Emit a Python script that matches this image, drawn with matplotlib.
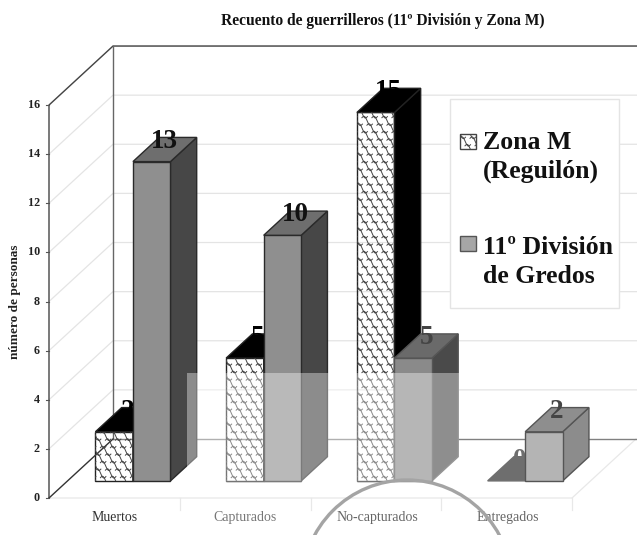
import numpy as np
import matplotlib
matplotlib.use('Agg')
import matplotlib.pyplot as plt
from matplotlib.patches import Polygon, Rectangle, Ellipse

plt.rcParams['font.family'] = ['Liberation Serif', 'DejaVu Serif']

categories = ['Muertos', 'Capturados', 'No-capturados', 'Entregados']
zona_m = [2, 5, 15, 0]
gredos = [13, 10, 5, 2]
series_names = ['Zona M\n(Reguilón)', '11º División\nde Gredos']
y_ticks = [0, 2, 4, 6, 8, 10, 12, 14, 16]

W, H = 637, 535
X0, Y0 = 49, 498       # pixel of the front corner
CAT_W = 130.75         # px per category
UNIT = 24.56           # px per person
DX = 64 / CAT_W        # depth of the box in data units
DY = 59 / UNIT

BAR_W = 0.287
BAR_MARGIN = 0.213
Z1, Z2 = 0.29, 0.70    # bar depth in the box


def pr(x, y, z=0.0):
    return x + DX * z, y + DY * z


def px(x, y):
    # only for scan leftovers and annotations
    return (x - X0) / CAT_W, (Y0 - y) / UNIT


fig = plt.figure(figsize=(W / 100, H / 100), dpi=100)
ax = fig.add_axes([0, 0, 1, 1])
ax.set_xlim(-X0 / CAT_W, (W - X0) / CAT_W)
ax.set_ylim((Y0 - H) / UNIT, Y0 / UNIT)
ax.axis('off')

# walls and floor
n = len(categories)
for t in y_ticks[1:]:
    ax.plot(*zip(pr(0, t), pr(0, t, 1), pr(n + 0.5, t, 1)), color='#e4e4e4', lw=0.9, zorder=1)
ax.plot(*zip(pr(0, 0), pr(n, 0), pr(n, 0, 1)), color='#e8e8e8', lw=0.9, zorder=1)
for i in range(1, n + 1):
    ax.plot(*zip(pr(i, 0), pr(i, -0.5)), color='#e8e8e8', lw=0.9, zorder=1)
ax.plot(*zip(pr(0, 0), pr(0, 16), pr(0, 16, 1), pr(n + 0.5, 16, 1)), color='#444444', lw=1, zorder=2)
ax.plot(*zip(pr(0, 16, 1), pr(0, 0, 1)), color='#666666', lw=1, zorder=2)
ax.plot(*zip(pr(0, 0, 1), pr(n + 0.5, 0, 1)), color='#808080', lw=1, zorder=2)
ax.plot(*zip(pr(0, 0), pr(0, 0, 1)), color='#333333', lw=1, zorder=2)
for t in y_ticks:
    ax.plot(*zip(pr(0, t), pr(-0.02, t)), color='#555555', lw=0.8, zorder=2)
    ax.text(-0.07, t, str(t), ha='right', va='center', fontsize=8.7, weight='bold', color='#222222')
ax.text(*px(15, 302), 'número de personas', rotation=90, ha='center', va='center',
        fontsize=9.5, weight='bold', color='#222222')
label_x = [114.5, 245.5, 377, 507.5]
label_c = ['#333333', '#777777', '#666666', '#666666']
for i, c in enumerate(categories):
    ax.text(px(label_x[i], 0)[0], px(0, 517.5)[1], c, ha='center', va='center', fontsize=10, color=label_c[i])
ax.text(*px(382.5, 21), 'Recuento de guerrilleros (11º División y Zona M)', ha='center', va='center',
        fontsize=11.2, weight='bold', color='#111111')


def scales(poly, zorder):
    # wavy weave drawn inside the polygon
    (x0, y0), (x1, y1) = poly.get_xy()[0], poly.get_xy()[2]
    sx, sy = 10 / CAT_W, 7.5 / UNIT
    t = np.linspace(0, 1, 16)
    for r, yy in enumerate(np.arange(y0 - sy, y1 + sy, sy)):
        for xx in np.arange(x0 - sx, x1 + sx, sx):
            xs = xx + (r % 2) * sx / 2 + t * sx * 1.05
            ys = yy + sy * 0.85 * (0.5 - t) + 0.38 * sy * np.sin(2 * np.pi * t)
            ln, = ax.plot(xs, ys, color='#444444', lw=0.7, zorder=zorder)
            ln.set_clip_path(poly)


def bar(i, x, v, front, side, top, edge, hatch=False, zorder=5):
    a, b = i + x, i + x + BAR_W
    if v > 0:
        f = Polygon([pr(a, 0, Z1), pr(b, 0, Z1), pr(b, v, Z1), pr(a, v, Z1)], fc=front, ec=edge, lw=1, zorder=zorder)
        s = Polygon([pr(b, 0, Z1), pr(b, 0, Z2), pr(b, v, Z2), pr(b, v, Z1)], fc=side, ec=edge, lw=1, zorder=zorder)
        ax.add_patch(s)
        ax.add_patch(f)
        if hatch:
            scales(f, zorder + 0.1)
    t = Polygon([pr(a, v, Z1), pr(b, v, Z1), pr(b, v, Z2), pr(a, v, Z2)], fc=top, ec=edge, lw=1, zorder=zorder)
    ax.add_patch(t)


# series one sits left of series two, drawn first so the second hides it
# its front has no fill, the wall lines show through the pattern
for i, v in enumerate(zona_m):
    if v == 0:
        bar(i, BAR_MARGIN, v, 'none', '#6e6e6e', '#6e6e6e', '#6e6e6e', zorder=5)
    else:
        bar(i, BAR_MARGIN, v, 'none', '#000000', '#000000', '#222222', hatch=True, zorder=5)
g_front = ['#8f8f8f', '#8f8f8f', '#8a8a8a', '#b4b4b4']
g_side = ['#474747', '#474747', '#4a4a4a', '#8c8c8c']
g_top = ['#6e6e6e', '#6e6e6e', '#6a6a6a', '#8e8e8e']
for i, v in enumerate(gredos):
    bar(i, BAR_MARGIN + BAR_W, v, g_front[i], g_side[i], g_top[i], '#2a2a2a' if i < 2 else '#555555', zorder=6)

# value labels, the first series goes behind the next bar
for i, v in enumerate(zona_m):
    x, y = pr(i + BAR_MARGIN + BAR_W / 2, v, (Z1 + Z2) / 2)
    ax.text(x, y + 0.08, str(v), ha='center', va='baseline', fontsize=19.5, weight='bold',
            color='#000000' if v else '#6e6e6e', zorder=5.5)
for i, v in enumerate(gredos):
    x, y = pr(i + BAR_MARGIN + BAR_W * 1.5, v, (Z1 + Z2) / 2)
    ax.text(x, y + 0.08, str(v), ha='center', va='baseline', fontsize=19.5, weight='bold',
            color='#111111' if i < 2 else '#444444', zorder=7)

# lighter band left by the scan
x0, y0 = px(187, 373)
x1, y1 = px(459, 482)
ax.add_patch(Rectangle((x0, y1), x1 - x0, y0 - y1, fc='white', ec='none', alpha=0.38, zorder=8))

# legend box
lx0, ly0 = px(450, 99)
lx1, ly1 = px(619, 308)
ax.add_patch(Rectangle((lx0, ly1), lx1 - lx0, ly0 - ly1, fc='white', ec='#e4e4e4', lw=1, zorder=9))
ax.add_patch(Rectangle(px(460, 149), 16 / CAT_W, 15 / UNIT, fc='white', ec='#444444', lw=1, zorder=10))
scales(Polygon([px(460, 149), px(476, 149), px(476, 134), px(460, 134)], closed=True,
               transform=ax.transData), 10.1)
ax.add_patch(Rectangle(px(460, 251), 16 / CAT_W, 15 / UNIT, fc='#a6a6a6', ec='#555555', lw=1, zorder=10))
ax.text(*px(483, 157), series_names[0], ha='left', va='center', fontsize=18.5, weight='bold',
        color='#111111', linespacing=1.3, zorder=10)
ax.text(*px(483, 262), series_names[1], ha='left', va='center', fontsize=18.5, weight='bold',
        color='#111111', linespacing=1.3, zorder=10)

# magnifier ring at the bottom
cx, cy = px(407, 585)
ax.add_patch(Ellipse((cx, cy), 210 / CAT_W, 210 / UNIT, fc='none', ec='#a4a4a4', lw=2.4, zorder=11))

fig.savefig('out.png', dpi=100)
